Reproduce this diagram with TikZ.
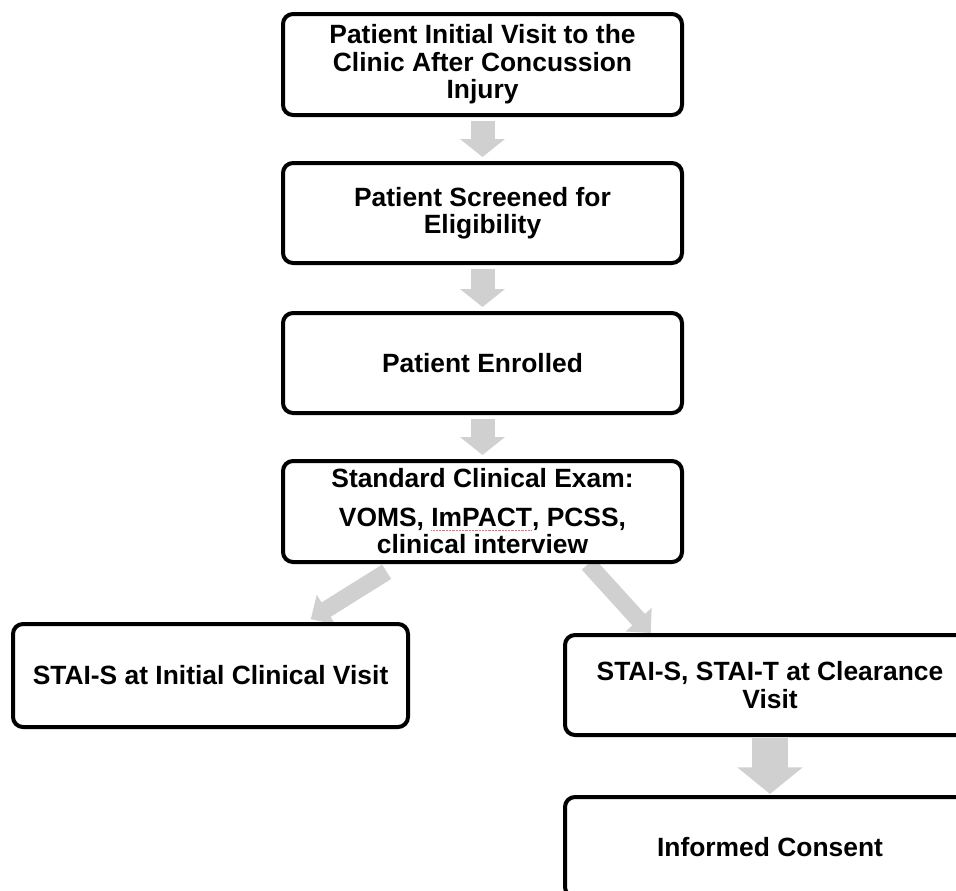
\documentclass[tikz,border=0pt]{standalone}
\usepackage{fontspec}
\setmainfont{Liberation Sans}
\usetikzlibrary{arrows.meta,calc,backgrounds}
\definecolor{arrowgray}{RGB}{208,208,208}
\definecolor{spellred}{RGB}{240,110,110}
\newcommand\spellwave[1]{\setbox0\hbox{#1}%
  \rlap{\color{spellred}\hbox to \wd0{\xleaders\hbox{\rule[-2.6pt]{0.75pt}{0.3pt}\kern0.3pt\rule[-3.1pt]{0.75pt}{0.3pt}\kern0.3pt}\hfil}}\box0}

\begin{document}
\begin{tikzpicture}[x=0.75pt,y=-0.75pt,
  stepbox/.style={draw,line width=3pt,rounded corners=7.5pt,fill=white,align=center,
    font=\bfseries\fontsize{19.8pt}{20.5pt}\selectfont,inner sep=2pt,
    minimum width=299.25pt,minimum height=75pt},
  flow/.style={draw=arrowgray,line width=18pt,-{Triangle[width=33pt,length=13.5pt]},
    shorten <=3pt,shorten >=3pt},
  flowbig/.style={draw=arrowgray,line width=27pt,-{Triangle[width=48pt,length=20pt]},
    shorten <=0.75pt,shorten >=0.75pt},
  flowslant/.style={draw=arrowgray,line width=12.75pt,-{Triangle[width=25.5pt,length=13.5pt]}}]
  \useasboundingbox (0,0) rectangle (956,890);
  % main column
  \node[stepbox,minimum height=75.75pt] (visit) at (482.5,64.5)
    {Patient Initial Visit to the\\Clinic After Concussion\\Injury};
  \node[stepbox] (screen) at (482.5,213) {Patient Screened for\\Eligibility};
  \node[stepbox] (enrol) at (482.5,363) {Patient Enrolled};
  \node[stepbox,minimum height=75.75pt] (exam) at (482.5,511.5)
    {Standard Clinical Exam:\\[8.5pt]VOMS, \spellwave{ImPACT}, PCSS,\\clinical interview};
  % two branches
  \node[stepbox,minimum width=296.25pt,minimum height=77.25pt] (initial) at (210.5,675.5)
    {STAI-S at Initial Clinical Visit};
  \node[stepbox,minimum width=307.5pt] (clearance) at (770,685)
    {STAI-S, STAI-T at Clearance\\Visit};
  \node[stepbox,minimum width=307.5pt] (consent) at (770,847) {Informed Consent};
  % gray arrows
  \begin{scope}[on background layer]
    \draw[flow] (visit) -- (screen);
    \draw[flow] (screen) -- (enrol);
    \draw[flow] (enrol) -- (exam);
    \draw[flowslant,shorten <=11pt,shorten >=4pt]
      ($(exam.south west)!0.293!(exam.south east)$) --
      ($(initial.north west)!0.74!(initial.north east)$);
    \draw[flowslant]
      ($(exam.south west)!0.762!(exam.south east)$) --
      ($(clearance.north west)!0.212!(clearance.north east)$);
    \draw[flowbig] (clearance) -- (consent);
  \end{scope}
\end{tikzpicture}
\end{document}
